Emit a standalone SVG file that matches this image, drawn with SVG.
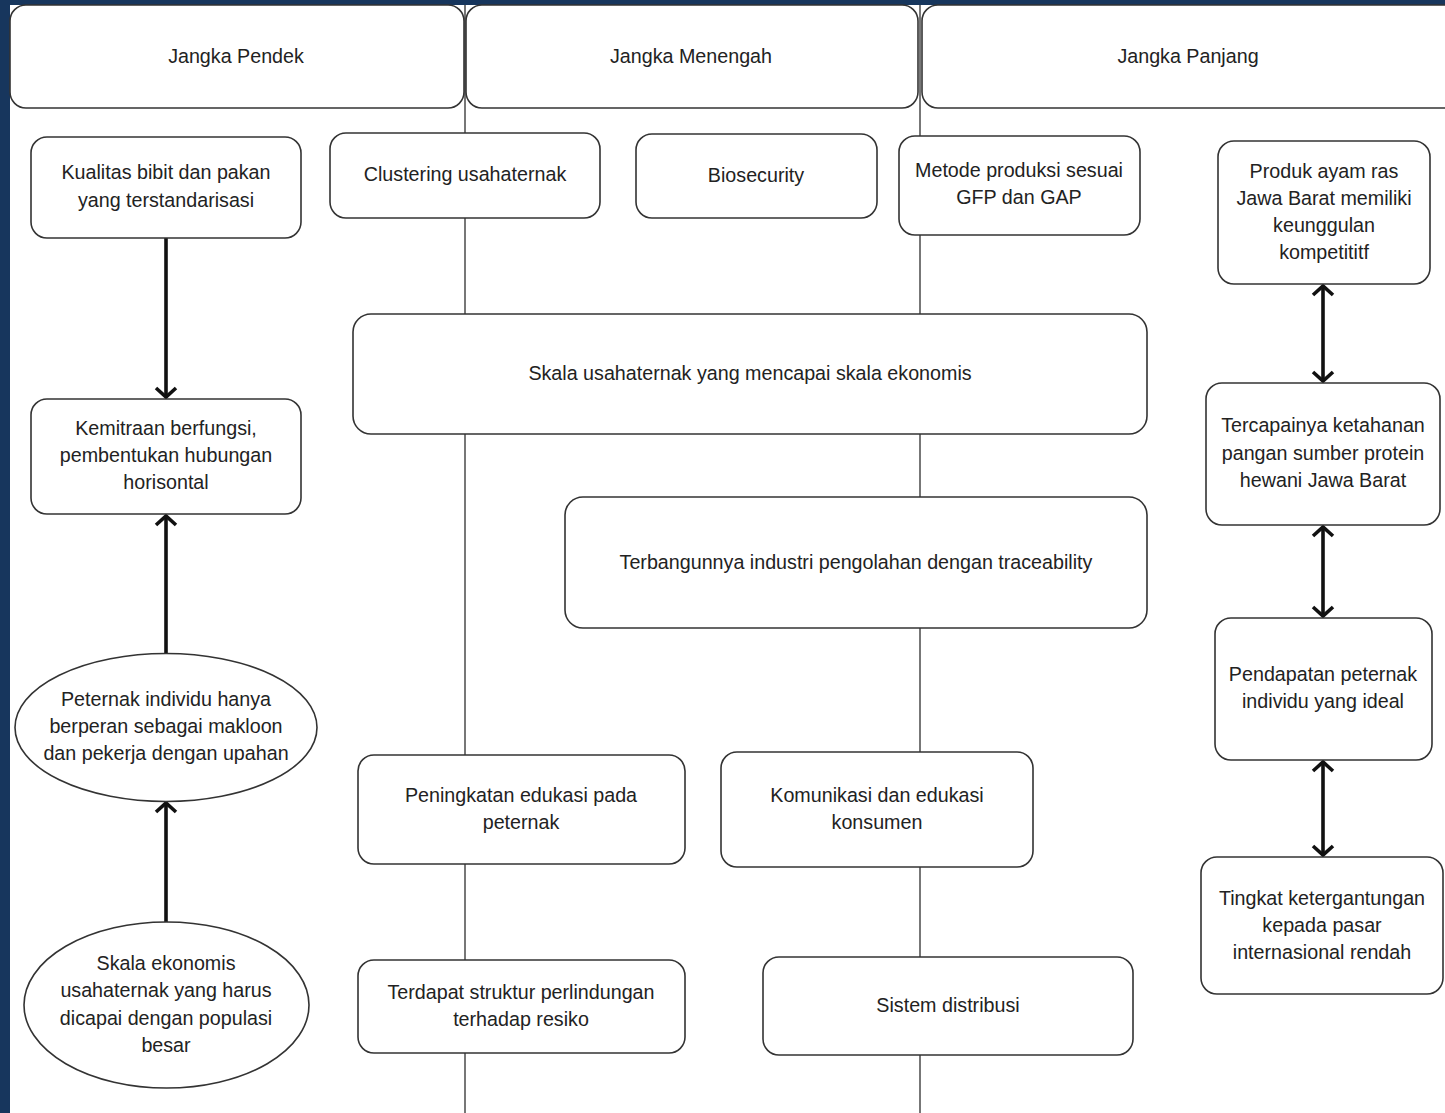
<svg xmlns="http://www.w3.org/2000/svg" width="1445" height="1113" viewBox="0 0 1445 1113">
<style>
.box{fill:#fff;stroke:#333;stroke-width:1.6}
.lane{stroke:#555;stroke-width:1.6;fill:none}
.t{font-family:"Liberation Sans",Arial,sans-serif;font-size:19.7px;fill:#222;text-anchor:middle}
.arr{stroke:#111;stroke-width:3.6;fill:none}
</style>
<defs>
<marker id="head" markerUnits="userSpaceOnUse" markerWidth="24" markerHeight="26" refX="12" refY="13" orient="auto-start-reverse" viewBox="0 0 24 26">
<path d="M3,3 L12,13 L3,23" fill="none" stroke="#111" stroke-width="3.6" stroke-linejoin="miter"/>
</marker>
</defs>
<rect x="0" y="0" width="1445" height="1113" fill="#fff"/>
<rect x="0" y="0" width="1445" height="5" fill="#17365d"/>
<rect x="0" y="0" width="10" height="1113" fill="#17365d"/>

<g id="lanes">
<line class="lane" x1="465" y1="5" x2="465" y2="1113"/>
<line class="lane" x1="920" y1="5" x2="920" y2="1113"/>
</g>

<g id="header-pendek"><rect class="box" x="10" y="5" width="454" height="103" rx="16"/><text class="t" x="236" y="63">Jangka Pendek</text></g>
<g id="header-menengah"><rect class="box" x="466" y="5" width="452" height="103" rx="16"/><text class="t" x="691" y="63">Jangka Menengah</text></g>
<g id="header-panjang"><rect class="box" x="922" y="5" width="550" height="103" rx="16"/><text class="t" x="1188" y="63">Jangka Panjang</text></g>

<g id="connectors">
<line class="arr" x1="166" y1="238" x2="166" y2="397" marker-end="url(#head)"/>
<line class="arr" x1="166" y1="654" x2="166" y2="516" marker-end="url(#head)"/>
<line class="arr" x1="166" y1="922" x2="166" y2="803" marker-end="url(#head)"/>
<line class="arr" x1="1323" y1="286" x2="1323" y2="381" marker-start="url(#head)" marker-end="url(#head)"/>
<line class="arr" x1="1323" y1="527" x2="1323" y2="616" marker-start="url(#head)" marker-end="url(#head)"/>
<line class="arr" x1="1323" y1="762" x2="1323" y2="855" marker-start="url(#head)" marker-end="url(#head)"/>
</g>

<g id="n-kualitas"><rect class="box" x="31" y="137" width="270" height="101" rx="16"/><text class="t" x="166" y="179">Kualitas bibit dan pakan</text><text class="t" x="166" y="207">yang terstandarisasi</text></g>
<g id="n-kemitraan"><rect class="box" x="31" y="399" width="270" height="115" rx="16"/><text class="t" x="166" y="435">Kemitraan berfungsi,</text><text class="t" x="166" y="462">pembentukan hubungan</text><text class="t" x="166" y="489">horisontal</text></g>
<g id="n-peternak"><ellipse class="box" cx="166" cy="727.5" rx="151" ry="74"/><text class="t" x="166" y="706">Peternak individu hanya</text><text class="t" x="166" y="733">berperan sebagai makloon</text><text class="t" x="166" y="760">dan pekerja dengan upahan</text></g>
<g id="n-skala-ekonomis"><ellipse class="box" cx="166.5" cy="1005" rx="142.5" ry="83"/><text class="t" x="166" y="970">Skala ekonomis</text><text class="t" x="166" y="997">usahaternak yang harus</text><text class="t" x="166" y="1025">dicapai dengan populasi</text><text class="t" x="166" y="1052">besar</text></g>

<g id="n-clustering"><rect class="box" x="330" y="133" width="270" height="85" rx="16"/><text class="t" x="465" y="181">Clustering usahaternak</text></g>
<g id="n-biosecurity"><rect class="box" x="636" y="134" width="241" height="84" rx="16"/><text class="t" x="756" y="182">Biosecurity</text></g>
<g id="n-metode"><rect class="box" x="899" y="136" width="241" height="99" rx="16"/><text class="t" x="1019" y="177">Metode produksi sesuai</text><text class="t" x="1019" y="204">GFP dan GAP</text></g>
<g id="n-skala-usaha"><rect class="box" x="353" y="314" width="794" height="120" rx="18"/><text class="t" x="750" y="380">Skala usahaternak yang mencapai skala ekonomis</text></g>
<g id="n-terbangunnya"><rect class="box" x="565" y="497" width="582" height="131" rx="18"/><text class="t" x="856" y="569">Terbangunnya industri pengolahan dengan traceability</text></g>
<g id="n-peningkatan"><rect class="box" x="358" y="755" width="327" height="109" rx="16"/><text class="t" x="521" y="802">Peningkatan edukasi pada</text><text class="t" x="521" y="829">peternak</text></g>
<g id="n-komunikasi"><rect class="box" x="721" y="752" width="312" height="115" rx="16"/><text class="t" x="877" y="802">Komunikasi dan edukasi</text><text class="t" x="877" y="829">konsumen</text></g>
<g id="n-terdapat"><rect class="box" x="358" y="960" width="327" height="93" rx="16"/><text class="t" x="521" y="999">Terdapat struktur perlindungan</text><text class="t" x="521" y="1026">terhadap resiko</text></g>
<g id="n-sistem"><rect class="box" x="763" y="957" width="370" height="98" rx="16"/><text class="t" x="948" y="1012">Sistem distribusi</text></g>

<g id="n-produk"><rect class="box" x="1218" y="141" width="212" height="143" rx="16"/><text class="t" x="1324" y="178">Produk ayam ras</text><text class="t" x="1324" y="205">Jawa Barat memiliki</text><text class="t" x="1324" y="232">keunggulan</text><text class="t" x="1324" y="259">kompetititf</text></g>
<g id="n-tercapainya"><rect class="box" x="1206" y="383" width="234" height="142" rx="16"/><text class="t" x="1323" y="432">Tercapainya ketahanan</text><text class="t" x="1323" y="460">pangan sumber protein</text><text class="t" x="1323" y="487">hewani Jawa Barat</text></g>
<g id="n-pendapatan"><rect class="box" x="1215" y="618" width="217" height="142" rx="16"/><text class="t" x="1323" y="681">Pendapatan peternak</text><text class="t" x="1323" y="708">individu yang ideal</text></g>
<g id="n-tingkat"><rect class="box" x="1201" y="857" width="242" height="137" rx="16"/><text class="t" x="1322" y="905">Tingkat ketergantungan</text><text class="t" x="1322" y="932">kepada pasar</text><text class="t" x="1322" y="959">internasional rendah</text></g>
</svg>
